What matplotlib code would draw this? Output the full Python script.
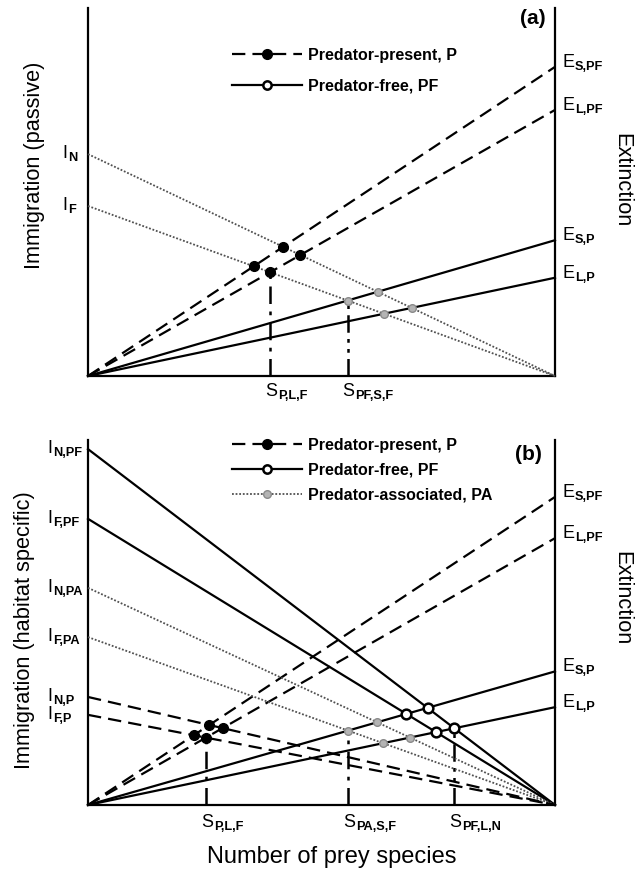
import matplotlib
matplotlib.use("Agg")
import matplotlib.pyplot as plt
from matplotlib.lines import Line2D

plt.rcParams['font.family'] = ['Liberation Sans', 'DejaVu Sans']

# ---------------- data ----------------
# panel (a)
a_imm_labels = ['N', 'F']
a_imm_values = [0.603, 0.462]
a_ext_labels = ['S,PF', 'L,PF', 'S,P', 'L,P']
a_ext_values = [0.840, 0.723, 0.369, 0.267]
a_ext_group = ['PF', 'PF', 'P', 'P']
a_eq_imm = [1, 1]            # index into a_imm
a_eq_ext = [1, 2]            # index into a_ext
a_eq_labels = ['P,L,F', 'PF,S,F']

# panel (b)
b_imm_labels = ['N,PF', 'F,PF', 'N,PA', 'F,PA', 'N,P', 'F,P']
b_imm_values = [0.975, 0.784, 0.595, 0.460, 0.296, 0.247]
b_imm_group = ['PF', 'PF', 'PA', 'PA', 'P', 'P']
b_ext_labels = ['S,PF', 'L,PF', 'S,P', 'L,P']
b_ext_values = [0.844, 0.731, 0.366, 0.268]
b_ext_group = ['PF', 'PF', 'P', 'P']
b_eq_imm = [5, 3, 0]
b_eq_ext = [1, 2, 3]
b_eq_labels = ['P,L,F', 'PA,S,F', 'PF,L,N']

legend_labels = ['Predator-present, P', 'Predator-free, PF', 'Predator-associated, PA']

# ---------------- styles ----------------
DASH = (0, (6, 3.2))
DOT = (0, (1, 1))
DASHDOT = (0, (7, 3, 1.5, 3))
DASHDOTDOT = (0, (7, 2.5, 1.5, 2.5, 1.5, 2.5))
LW = 1.6
MAIN_FS = 13
SUB_FS = 9.2
PX = 0.72  # points per pixel at dpi 100


def intersect(i0, e1):
    # immigration: y = i0*(1-x); extinction: y = e1*x
    x = i0 / (i0 + e1)
    return x, e1 * x


W, H = 642, 872
fig = plt.figure(figsize=(W / 100, H / 100), dpi=100)


def make_axes(top_px, bottom_px):
    left, right = 88, 555
    ax = fig.add_axes([left / W, 1 - bottom_px / H, (right - left) / W, (bottom_px - top_px) / H])
    ax.set_xlim(0, 1)
    ax.set_ylim(0, 1)
    ax.spines['top'].set_visible(False)
    for s in ['left', 'right', 'bottom']:
        ax.spines[s].set_linewidth(1.6)
    ax.set_xticks([])
    ax.set_yticks([])
    ax.patch.set_alpha(0)
    return ax


def sublabel(ax, xy, main, sub, dx_px, dy_px):
    """Main letter left-aligned at data point xy + pixel offset, with bold subscript."""
    t = ax.annotate(main, xy=xy, xycoords='data', xytext=(dx_px * PX, dy_px * PX),
                    textcoords='offset points', ha='left', va='baseline', fontsize=MAIN_FS,
                    annotation_clip=False)
    ax.annotate(sub, xy=(1, 0), xycoords=t, xytext=(0.8 * PX, 1.0 * PX),
                textcoords='offset points', ha='left', va='baseline', fontsize=SUB_FS,
                fontweight='bold', annotation_clip=False)


def draw_ext(ax, labels, values, groups):
    for lab, v, g in zip(labels, values, groups):
        ls = DASH if g == 'PF' else '-'
        ax.plot([0, 1], [0, v], color='black', lw=LW, ls=ls, zorder=3, clip_on=False)
        sublabel(ax, (1, v), 'E', lab, 7, 0)


def draw_imm(ax, labels, values, styles, dx):
    for lab, v, st in zip(labels, values, styles):
        ax.plot([0, 1], [v, 0], zorder=3, clip_on=False, **st)
        sublabel(ax, (0, v), 'I', lab, dx, -4)


def dot(ax, x, y, kind):
    if kind == 'black':
        ax.plot(x, y, 'o', ms=7, mfc='black', mec='black', mew=1, zorder=6, clip_on=False)
    elif kind == 'grey':
        ax.plot(x, y, 'o', ms=5.5, mfc='#b4b4b4', mec='#8a8a8a', mew=1, zorder=6, clip_on=False)
    else:
        ax.plot(x, y, 'o', ms=7, mfc='white', mec='black', mew=1.8, zorder=6, clip_on=False)


def draw_eq(ax, imm_vals, ext_vals, eq_imm, eq_ext, eq_labels, styles, dy):
    for ii, ee, lab, st in zip(eq_imm, eq_ext, eq_labels, styles):
        x, y = intersect(imm_vals[ii], ext_vals[ee])
        ax.plot([x, x], [0, y], color='black', lw=1.8, ls=st, zorder=2)
        sublabel(ax, (x, 0), 'S', lab, -5, dy)


ylab_fs = 15.7
leg_fs = 11.5

hP = Line2D([], [], color='black', lw=LW, ls=DASH, marker='o', ms=7, mfc='black', mec='black')
hPF = Line2D([], [], color='black', lw=LW, ls='-', marker='o', ms=6, mfc='white', mec='black', mew=1.8)
hPA = Line2D([], [], color='#505050', lw=1.3, ls=DOT, marker='o', ms=5.5, mfc='#b4b4b4', mec='#8a8a8a')

# ---------------- panel (a) ----------------
ax = make_axes(8, 376)
draw_ext(ax, a_ext_labels, a_ext_values, a_ext_group)
imm_style_a = [dict(color='#505050', lw=1.3, ls=DOT)] * 2
draw_imm(ax, a_imm_labels, a_imm_values, imm_style_a, -26)
for i in a_imm_values:
    for e, g in zip(a_ext_values, a_ext_group):
        x, y = intersect(i, e)
        dot(ax, x, y, 'black' if g == 'PF' else 'grey')
draw_eq(ax, a_imm_values, a_ext_values, a_eq_imm, a_eq_ext, a_eq_labels, [DASHDOT, DASHDOTDOT], -20)
fig.text(35 / W, 1 - 165 / H, 'Immigration (passive)', rotation=90, ha='center', va='center',
         fontsize=ylab_fs)
fig.text(622 / W, 1 - 180 / H, 'Extinction', rotation=270, ha='center', va='center',
         fontsize=ylab_fs)
fig.text(533 / W, 1 - 19 / H, '(a)', ha='center', va='center', fontsize=15, fontweight='bold')

ax.legend([hP, hPF], legend_labels[:2], loc='upper left', bbox_to_anchor=(232 / W, 1 - 48 / H),
          bbox_transform=fig.transFigure, frameon=False, borderpad=0, borderaxespad=0,
          handlelength=4.4, handletextpad=0.35, labelspacing=0.95, numpoints=1,
          prop=dict(weight='bold', size=leg_fs))

# ---------------- panel (b) ----------------
ax = make_axes(440, 805)
draw_ext(ax, b_ext_labels, b_ext_values, b_ext_group)
style_map = {'PF': dict(color='black', lw=LW, ls='-'),
             'PA': dict(color='#505050', lw=1.3, ls=DOT),
             'P': dict(color='black', lw=LW, ls=DASH)}
draw_imm(ax, b_imm_labels, b_imm_values, [style_map[g] for g in b_imm_group], -41)
kind_map = {'P': 'black', 'PA': 'grey', 'PF': 'open'}
for i, g in zip(b_imm_values, b_imm_group):
    for e, ge in zip(b_ext_values, b_ext_group):
        if (g == 'P' and ge == 'PF') or (g in ('PA', 'PF') and ge == 'P'):
            x, y = intersect(i, e)
            dot(ax, x, y, kind_map[g])
draw_eq(ax, b_imm_values, b_ext_values, b_eq_imm, b_eq_ext, b_eq_labels,
        [DASHDOT, DASHDOT, DASHDOTDOT], -22)
fig.text(25 / W, 1 - 630 / H, 'Immigration (habitat specific)', rotation=90, ha='center',
         va='center', fontsize=ylab_fs)
fig.text(622 / W, 1 - 598 / H, 'Extinction', rotation=270, ha='center', va='center',
         fontsize=ylab_fs)
fig.text(528 / W, 1 - 454 / H, '(b)', ha='center', va='center', fontsize=15, fontweight='bold')
fig.text(332 / W, 1 - 857 / H, 'Number of prey species', ha='center', va='center', fontsize=17)

ax.legend([hP, hPF, hPA], legend_labels, loc='upper left', bbox_to_anchor=(232 / W, 1 - 438 / H),
          bbox_transform=fig.transFigure, frameon=False, borderpad=0, borderaxespad=0,
          handlelength=4.4, handletextpad=0.35, labelspacing=0.62, numpoints=1,
          prop=dict(weight='bold', size=leg_fs))

fig.savefig('out.png', dpi=100)
